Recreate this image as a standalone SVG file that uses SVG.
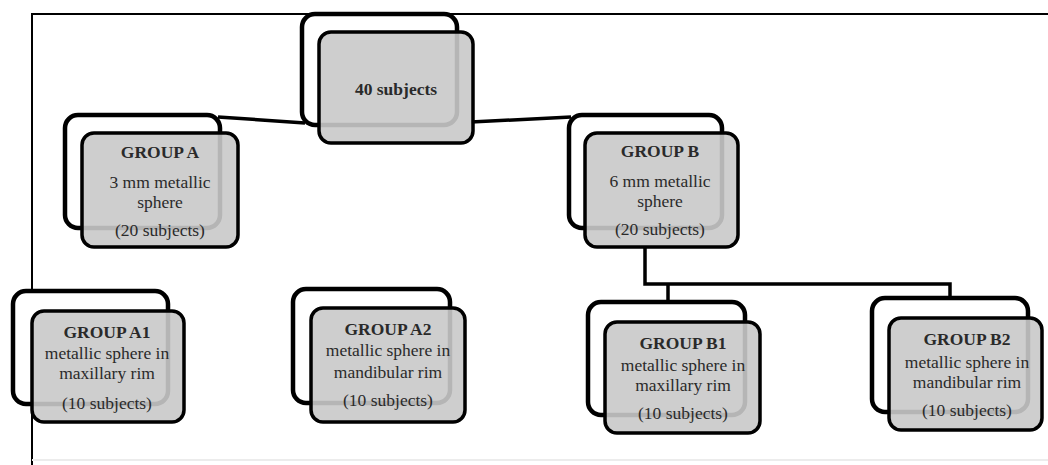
<svg xmlns="http://www.w3.org/2000/svg" width="1048" height="465" viewBox="0 0 1048 465">
<style>
.back{fill:#ffffff;stroke:#000;stroke-width:4.5}
.front{fill:#c9c9c9;fill-opacity:0.9;stroke:#000;stroke-width:3.5}
.conn{fill:none;stroke:#000;stroke-width:3.5}
.frame{fill:none;stroke:#000;stroke-width:2}
.t{font-family:'Liberation Serif','Times New Roman','DejaVu Serif',serif;font-size:17.5px;fill:#2a2a2a;text-anchor:middle}
.b{font-weight:bold}
</style>
<rect width="1048" height="465" fill="#fff"/>
<g id="frame">
<path class="frame" d="M32,465 V14 H1048"/>
<line x1="32" y1="460" x2="1048" y2="460" stroke="#ececec" stroke-width="2"/>
</g>
<g id="connectors">
<line class="conn" x1="218" y1="117" x2="305" y2="123"/>
<line class="conn" x1="471" y1="122" x2="571" y2="117"/>
<path class="conn" d="M645,247 V284 H950 V299"/>
<line class="conn" x1="668" y1="284" x2="668" y2="303"/>
</g>
<g id="n40">
<rect class="back" x="302" y="14" width="155" height="111" rx="13"/>
<rect class="front" x="319" y="32" width="154" height="111" rx="12"/>
<text class="t b" x="396" y="95" font-family="Liberation Serif, serif">40 subjects</text>
</g>
<g id="groupA">
<rect class="back" x="65" y="115" width="155" height="113" rx="13"/>
<rect class="front" x="82" y="133" width="156" height="114" rx="12"/>
<text class="t b" x="160" y="158">GROUP A</text>
<text class="t" x="160" y="188">3 mm metallic</text>
<text class="t" x="160" y="208">sphere</text>
<text class="t" x="160" y="236">(20 subjects)</text>
</g>
<g id="groupB">
<rect class="back" x="569" y="115" width="153" height="113" rx="13"/>
<rect class="front" x="585" y="133" width="153" height="114" rx="12"/>
<text class="t b" x="660" y="157">GROUP B</text>
<text class="t" x="660" y="187">6 mm metallic</text>
<text class="t" x="660" y="207">sphere</text>
<text class="t" x="660" y="235">(20 subjects)</text>
</g>
<g id="groupA1">
<rect class="back" x="13" y="291" width="155" height="113" rx="13"/>
<rect class="front" x="32" y="311" width="152" height="111" rx="12"/>
<text class="t b" x="107" y="338">GROUP A1</text>
<text class="t" x="107" y="359">metallic sphere in</text>
<text class="t" x="107" y="379">maxillary rim</text>
<text class="t" x="107" y="409">(10 subjects)</text>
</g>
<g id="groupA2">
<rect class="back" x="293" y="289" width="157" height="114" rx="13"/>
<rect class="front" x="311" y="308" width="154" height="114" rx="12"/>
<text class="t b" x="388" y="335">GROUP A2</text>
<text class="t" x="388" y="356">metallic sphere in</text>
<text class="t" x="388" y="378">mandibular rim</text>
<text class="t" x="388" y="406">(10 subjects)</text>
</g>
<g id="groupB1">
<rect class="back" x="588" y="302" width="157" height="113" rx="13"/>
<rect class="front" x="605" y="322" width="155" height="111" rx="12"/>
<text class="t b" x="683" y="349">GROUP B1</text>
<text class="t" x="683" y="371">metallic sphere in</text>
<text class="t" x="683" y="391">maxillary rim</text>
<text class="t" x="683" y="419">(10 subjects)</text>
</g>
<g id="groupB2">
<rect class="back" x="872" y="298" width="156" height="114" rx="13"/>
<rect class="front" x="889" y="318" width="153" height="112" rx="12"/>
<text class="t b" x="967" y="345">GROUP B2</text>
<text class="t" x="967" y="368">metallic sphere in</text>
<text class="t" x="967" y="388">mandibular rim</text>
<text class="t" x="967" y="416">(10 subjects)</text>
</g>
</svg>
